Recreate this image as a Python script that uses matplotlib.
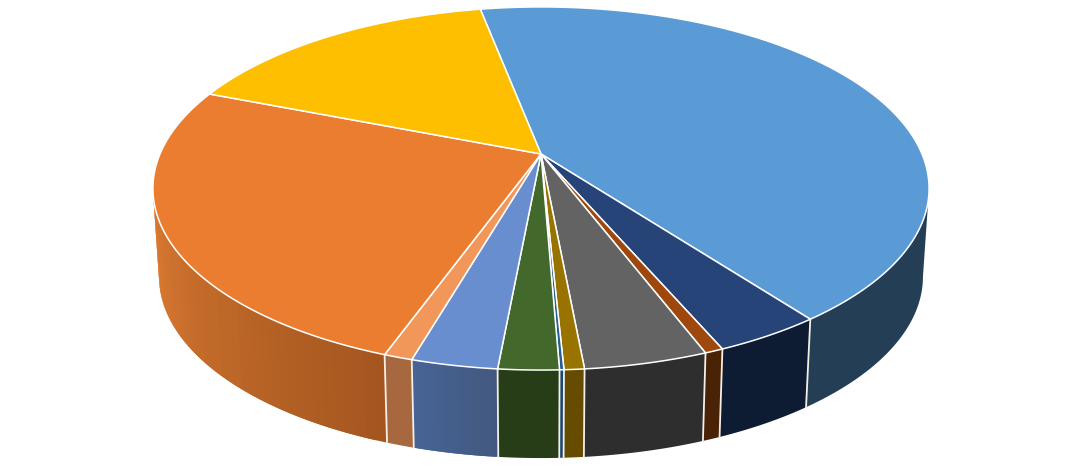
import matplotlib
matplotlib.use('Agg')
import matplotlib.pyplot as plt
import numpy as np
from matplotlib.colors import to_rgb

# share of each slice in percent, clockwise from the start angle
values = [42.8, 3.8, 0.65, 4.3, 0.7, 0.15, 2.1, 3.0, 1.0, 25.5, 16.0]
colors = ['#5B9BD5', '#264478', '#9E480E', '#636363', '#997300', '#255E91',
          '#43682B', '#698ED0', '#F1975A', '#EB7D31', '#FDBF00']
# side wall colours, at start and end of each slice
wall_start = ['#243F55', '#0E1C33', '#4A2205', '#2E2E2E', '#664C00', '#1C4770',
              '#263D18', '#43587F', '#A8683F', '#A5561F', '#8A6800']
wall_end = ['#243F55', '#0E1C33', '#4A2205', '#2E2E2E', '#664C00', '#1C4770',
            '#263D18', '#466496', '#A8683F', '#DC7C33', '#8A6800']

start_angle = -10.9
cx, top_cy, low_cy = 541, 154, 242
top_w, low_w = 381, 375
height = 175
persp = 0.19
# rim angles where the wall turns away from the viewer
front_lo = np.degrees(np.arccos(-persp))
front_hi = 360 - front_lo


def project(angle, cy, w):
    a = np.radians(angle)
    u, v = np.sin(a), -np.cos(a)
    d = 1 - persp * v
    return cx + w * u / d, cy + height * v / d


fig = plt.figure(figsize=(10.84, 4.70), dpi=100)
ax = fig.add_axes([0, 0, 1, 1])
ax.set_xlim(0, 1084)
ax.set_ylim(470, 0)
ax.axis('off')

edges = start_angle + np.cumsum([0] + values) * 3.6

# side walls, only the part that faces the viewer
for i in range(len(values)):
    lo, hi = max(edges[i], front_lo), min(edges[i + 1], front_hi)
    if hi <= lo:
        continue
    c0, c1 = np.array(to_rgb(wall_start[i])), np.array(to_rgb(wall_end[i]))
    n = 1 if wall_start[i] == wall_end[i] else 40
    bounds = np.linspace(lo, hi, n + 1)
    for j in range(n):
        # each strip runs over the next one so no seams show
        angs = np.linspace(bounds[j], hi if j == n - 1 else bounds[j + 2], 60)
        xt, yt = project(angs, top_cy, top_w)
        xb, yb = project(angs[::-1], low_cy, low_w)
        t = j / max(n - 1, 1)
        ax.fill(np.concatenate([xt, xb]), np.concatenate([yt, yb]),
                color=c0 + (c1 - c0) * t, lw=0, zorder=1)

# white seams on the visible front of the wall
for e in edges:
    if front_lo < e < front_hi:
        xa, ya = project(e, top_cy, top_w)
        xb, yb = project(e, low_cy, low_w)
        ax.plot([xa, xb], [ya, yb], color='#F4EFE8', lw=1.3, zorder=2)

# top faces
for i in range(len(values)):
    angs = np.linspace(edges[i], edges[i + 1], max(int(values[i] * 8), 4))
    xs, ys = project(angs, top_cy, top_w)
    xs = np.concatenate([[cx], xs])
    ys = np.concatenate([[top_cy], ys])
    ax.fill(xs, ys, facecolor=colors[i], edgecolor='white', lw=1.1,
            joinstyle='round', zorder=3)

fig.savefig('out.png', dpi=100)
